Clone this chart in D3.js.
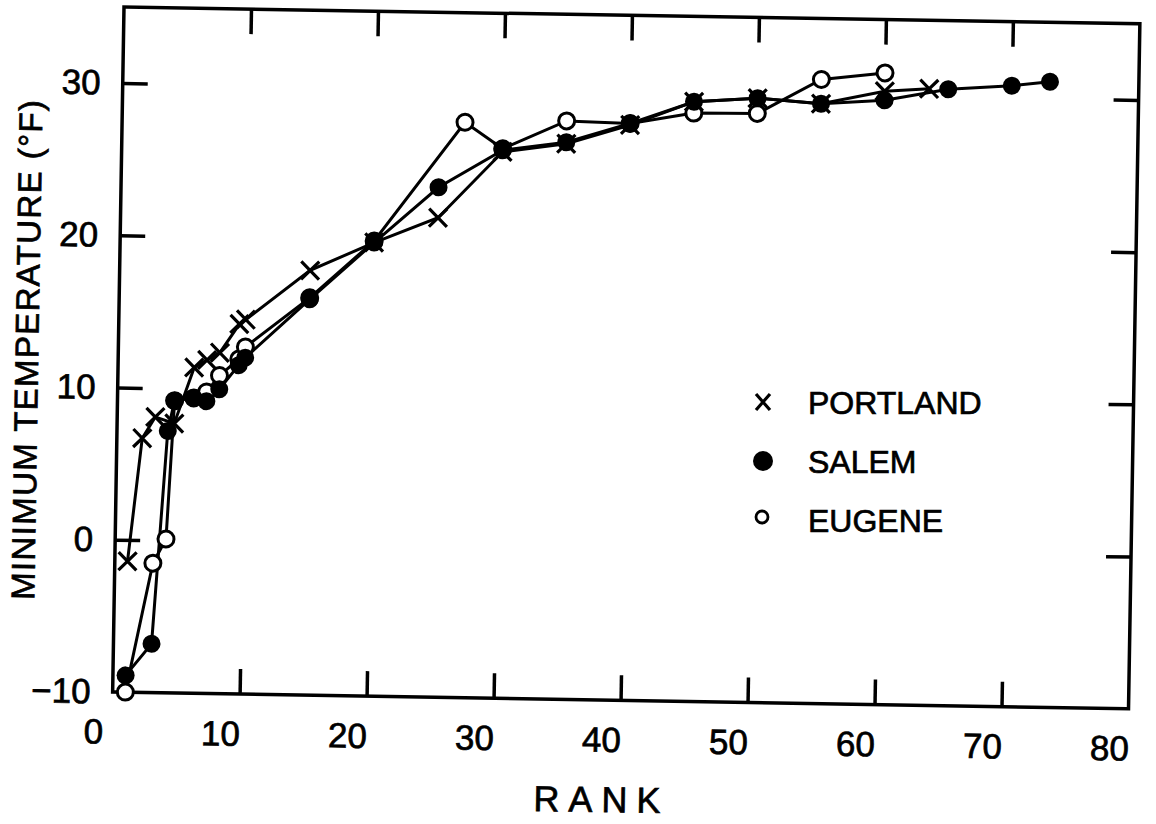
<!DOCTYPE html>
<html>
<head>
<meta charset="utf-8">
<script src="https://cdn.jsdelivr.net/npm/d3@7"></script>
<style>
  body { margin: 0; background: #fff; }
  text { font-family: "Liberation Sans", Arial, sans-serif; fill: #000; stroke: #000; stroke-width: 0.7px; }
</style>
</head>
<body>
<div id="chart"></div>
<script>
// tick values
var rankTicks = [0, 10, 20, 30, 40, 50, 60, 70, 80];
var tempTicks = [-10, 0, 10, 20, 30];
var innerRankTicks = [10, 20, 30, 40, 50, 60, 70];
var innerTempTicks = [0, 10, 20, 30];

var portlandRank = [1, 2, 3, 4.5, 6, 7, 8, 9.5, 10, 15, 20, 25, 30, 35, 40, 45, 50, 55, 60, 63.5];
var portlandTemp = [-1.4, 6.7, 8.1, 7.7, 11.4, 11.9, 12.4, 14.3, 14.6, 17.9, 19.8, 21.5, 25.9, 26.5, 27.8, 29.4, 29.7, 29.4, 30.3, 30.5];

var salemRank = [1, 3, 4, 4.5, 6, 7, 8, 9.5, 10, 15, 20, 25, 30, 35, 40, 45, 50, 55, 60, 65, 70, 73];
var salemTemp = [-8.9, -6.8, 7.2, 9.2, 9.4, 9.2, 10.0, 11.6, 12.1, 16.0, 19.8, 23.5, 26.0, 26.6, 27.9, 29.4, 29.7, 29.4, 29.7, 30.5, 30.8, 31.1];

var eugeneRank = [1, 3, 4, 4.5, 6, 7, 8, 9.5, 10, 15, 20, 27, 30, 35, 40, 45, 50, 55, 60];
var eugeneTemp = [-10, -1.5, 0.1, 9.2, 9.4, 9.8, 10.9, 12.0, 12.8, 16.1, 19.9, 27.8, 26.1, 28.0, 27.9, 28.65, 28.7, 31.0, 31.5];

var legendNames = ["PORTLAND", "SALEM", "EUGENE"];

var width = 1016;
var height = 685;
var margin = { top: 7, left: 124 };

var svg = d3.select("#chart")
    .append("svg")
    .attr("width", 1156)
    .attr("height", 824);

// the scan is turned by about one degree
var g = svg.append("g")
    .attr("transform", "translate(" + margin.left + "," + margin.top + ") rotate(0.95)");

var x = d3.scaleLinear().domain([0, 80]).range([0, width]);
var y = d3.scaleLinear().domain([-10, 35]).range([height, 0]);

function zip(rs, ts) {
    return rs.map(function(r, i) { return { rank: r, temp: ts[i] }; });
}
var portland = zip(portlandRank, portlandTemp);
var salem = zip(salemRank, salemTemp);
var eugene = zip(eugeneRank, eugeneTemp);

// frame
g.append("rect")
    .attr("x", 0).attr("y", 0)
    .attr("width", width).attr("height", height)
    .attr("fill", "none")
    .attr("stroke", "#000")
    .attr("stroke-width", 3.5);

// inward ticks on all four sides
var tickLen = 25;
g.append("g").attr("class", "ticks")
    .attr("transform", "translate(0," + height + ")")
    .call(d3.axisBottom(x).tickValues(innerRankTicks).tickSize(-tickLen).tickFormat(""));
g.append("g").attr("class", "ticks")
    .call(d3.axisTop(x).tickValues(innerRankTicks).tickSize(-tickLen).tickFormat(""));
g.append("g").attr("class", "ticks")
    .call(d3.axisLeft(y).tickValues(innerTempTicks).tickSize(-tickLen).tickFormat(""));
g.append("g").attr("class", "ticks")
    .attr("transform", "translate(" + width + ",0)")
    .call(d3.axisRight(y).tickValues(innerTempTicks).tickSize(-tickLen).tickFormat(""));
g.selectAll(".ticks path.domain").remove();
g.selectAll(".ticks line").attr("stroke", "#000").attr("stroke-width", 3.5);

// tick labels
var xLab = g.append("g")
    .attr("transform", "translate(0," + height + ")")
    .call(d3.axisBottom(x).tickValues(rankTicks).tickSize(0).tickPadding(27));
xLab.selectAll("text")
    .attr("dx", -19)
    .style("font-size", "35px")
    .attr("fill", "#000");

var yLab = g.append("g")
    .call(d3.axisLeft(y).tickValues(tempTicks).tickSize(0).tickPadding(22));
yLab.selectAll("text")
    .style("font-size", "35px")
    .attr("fill", "#000");
g.selectAll("path.domain").remove();

// axis titles
g.append("text")
    .attr("x", width / 2 - 22)
    .attr("y", height + 112)
    .attr("text-anchor", "middle")
    .attr("textLength", 127)
    .attr("lengthAdjust", "spacing")
    .style("font-size", "36px")
    .text("RANK");

g.append("text")
    .attr("transform", "translate(-80," + (height / 2 + 2) + ") rotate(-90)")
    .attr("text-anchor", "middle")
    .attr("textLength", 500)
    .attr("lengthAdjust", "spacing")
    .style("font-size", "33px")
    .text("MINIMUM  TEMPERATURE  (°F)");

// lines
var line = d3.line()
    .x(function(d) { return x(d.rank); })
    .y(function(d) { return y(d.temp); });

[portland, salem, eugene].forEach(function(series) {
    g.append("path")
        .datum(series)
        .attr("d", line)
        .attr("fill", "none")
        .attr("stroke", "#000")
        .attr("stroke-width", 3);
});

// markers
var xs = 9;
g.selectAll(".cross")
    .data(portland)
    .enter()
    .append("path")
    .attr("class", "cross")
    .attr("d", function(d) {
        var cx = x(d.rank), cy = y(d.temp);
        return "M" + (cx - xs) + "," + (cy - xs) + "L" + (cx + xs) + "," + (cy + xs) +
               "M" + (cx + xs) + "," + (cy - xs) + "L" + (cx - xs) + "," + (cy + xs);
    })
    .attr("stroke", "#000")
    .attr("stroke-width", 3.2)
    .attr("fill", "none");

g.selectAll(".open")
    .data(eugene)
    .enter()
    .append("circle")
    .attr("class", "open")
    .attr("cx", function(d) { return x(d.rank); })
    .attr("cy", function(d) { return y(d.temp); })
    .attr("r", 8)
    .attr("fill", "#fff")
    .attr("stroke", "#000")
    .attr("stroke-width", 3);

g.selectAll(".filled")
    .data(salem)
    .enter()
    .append("circle")
    .attr("class", "filled")
    .attr("cx", function(d) { return x(d.rank); })
    .attr("cy", function(d) { return y(d.temp); })
    .attr("r", 9)
    .attr("fill", "#000");

// legend
var legend = svg.append("g").attr("transform", "translate(763,402)");
var rowGap = 59;
legend.selectAll("text")
    .data(legendNames)
    .enter()
    .append("text")
    .attr("x", 45)
    .attr("y", function(d, i) { return i * rowGap + 12; })
    .style("font-size", "32px")
    .text(function(d) { return d; });

legend.append("path")
    .attr("d", "M-7,-8L7,8M7,-8L-7,8")
    .attr("stroke", "#000")
    .attr("stroke-width", 3.2);
legend.append("circle")
    .attr("cx", 0).attr("cy", rowGap)
    .attr("r", 10)
    .attr("fill", "#000");
legend.append("circle")
    .attr("cx", -1).attr("cy", 2 * rowGap - 3)
    .attr("r", 6)
    .attr("fill", "#fff")
    .attr("stroke", "#000")
    .attr("stroke-width", 2.8);
</script>
</body>
</html>
